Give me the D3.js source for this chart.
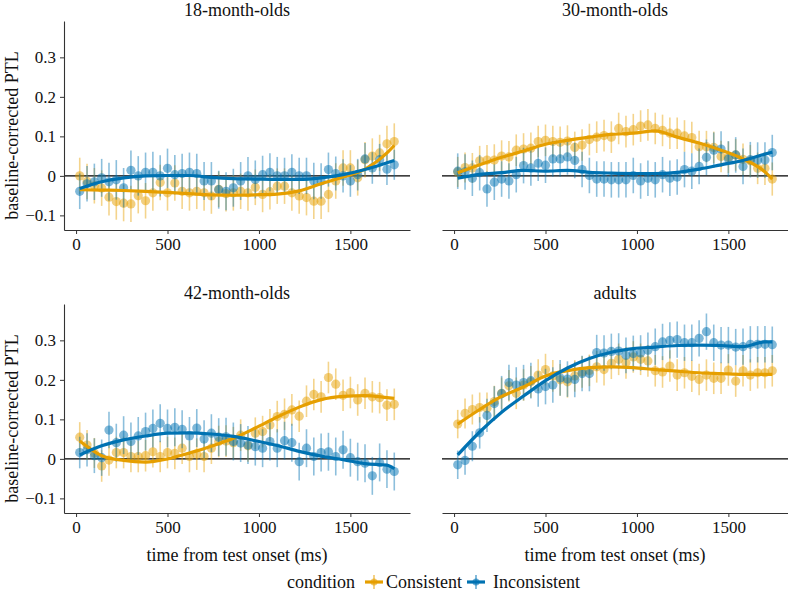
<!DOCTYPE html>
<html lang="en">
<head>
<meta charset="utf-8">
<script src="https://d3js.org/d3.v7.min.js"></script>
<style>
  body { margin: 0; background: white; }
  svg text { font-family: "Liberation Serif", "Times New Roman", serif; fill: #111; }
  .axis path, .axis line { stroke: #333; }
</style>
</head>
<body>
<div id="chart"></div>
<script>
// time bins (ms)
const times = [20,60,100,140,180,220,260,300,340,380,420,460,500,540,580,620,660,700,740,780,820,860,
  900,940,980,1020,1060,1100,1140,1180,1220,1260,1300,1340,1380,1420,1460,1500,1540,1580,1620,1660,1700,1740];
const fitTimes = [20,140,260,380,500,620,740,860,980,1100,1220,1340,1460,1580,1700,1740];

const panelNames = ["18-month-olds", "30-month-olds", "42-month-olds", "adults"];
const conditions = ["Consistent", "Inconsistent"];
const yTicks = [-0.1, 0, 0.1, 0.2, 0.3];
const xTicks = [0, 500, 1000, 1500];

// 18-month-olds
const c18 = [0.0,-0.014,-0.025,-0.031,-0.054,-0.065,-0.069,-0.071,-0.05,-0.063,-0.043,-0.017,-0.043,-0.018,-0.039,-0.043,-0.039,-0.043,-0.051,-0.034,-0.045,-0.043,
  -0.039,-0.043,-0.029,-0.047,-0.04,-0.026,-0.026,-0.043,-0.051,-0.055,-0.064,-0.064,-0.047,-0.013,0.02,0.02,-0.005,0.041,0.05,0.058,0.081,0.087];
const i18 = [-0.039,-0.02,-0.015,-0.005,-0.015,-0.01,-0.03,0.014,0.0,0.009,0.009,0.0,0.019,0.003,0.006,0.009,0.006,-0.013,-0.013,-0.035,-0.039,-0.03,
  -0.013,0.0,-0.009,0.003,0.009,0.0,0.0,0.009,0.0,0.0,-0.013,-0.013,0.016,0.006,0.0,-0.013,0.003,0.043,0.02,0.041,0.017,0.028];
const c18se = [0.046,0.045,0.045,0.045,0.046,0.046,0.046,0.046,0.045,0.045,0.045,0.045,0.045,0.045,0.045,0.045,0.045,0.045,0.045,0.045,0.045,0.045,
  0.045,0.045,0.045,0.045,0.045,0.045,0.045,0.045,0.045,0.045,0.045,0.045,0.045,0.045,0.045,0.045,0.045,0.045,0.045,0.046,0.046,0.046];
const i18se = [0.045,0.045,0.046,0.048,0.048,0.05,0.05,0.05,0.05,0.05,0.052,0.052,0.05,0.05,0.05,0.05,0.05,0.048,0.048,0.048,0.048,0.048,
  0.048,0.048,0.048,0.048,0.048,0.048,0.046,0.046,0.046,0.046,0.046,0.045,0.043,0.043,0.042,0.04,0.04,0.04,0.04,0.04,0.04,0.038];
const c18fit = [-0.035,-0.036,-0.037,-0.039,-0.042,-0.045,-0.048,-0.049,-0.048,-0.046,-0.038,-0.02,-0.003,0.017,0.058,0.077];
const i18fit = [-0.032,-0.015,-0.005,0.0,0.001,0.001,-0.004,-0.007,-0.008,-0.009,-0.009,-0.005,0.003,0.016,0.033,0.039];

// 30-month-olds
const c30 = [0.01,0.021,0.02,0.038,0.04,0.04,0.05,0.048,0.065,0.068,0.07,0.087,0.09,0.087,0.085,0.088,0.072,0.078,0.092,0.098,0.102,0.098,
  0.12,0.112,0.117,0.126,0.129,0.12,0.115,0.108,0.108,0.101,0.097,0.074,0.074,0.072,0.049,0.047,0.053,0.042,0.038,0.019,0.019,-0.008];
const i30 = [0.012,0.01,-0.006,0.008,-0.033,-0.016,-0.008,-0.013,0.003,0.026,0.02,0.032,0.027,0.043,0.043,0.048,0.039,0.016,0.001,-0.008,-0.008,-0.01,
  -0.01,-0.01,0.001,-0.013,-0.006,-0.01,0.003,-0.006,-0.003,0.016,0.012,0.024,0.047,0.065,0.068,0.043,0.053,0.024,0.041,0.04,0.04,0.059];
const c30se = [0.038,0.038,0.038,0.038,0.038,0.04,0.04,0.04,0.04,0.04,0.04,0.04,0.04,0.04,0.04,0.04,0.04,0.04,0.04,0.04,0.04,0.04,
  0.04,0.04,0.04,0.04,0.04,0.04,0.04,0.04,0.04,0.04,0.04,0.04,0.04,0.04,0.04,0.04,0.04,0.04,0.04,0.04,0.042,0.042];
const i30se = [0.045,0.045,0.045,0.045,0.045,0.045,0.045,0.045,0.045,0.045,0.045,0.045,0.045,0.045,0.045,0.045,0.045,0.045,0.045,0.045,0.045,0.045,
  0.045,0.045,0.045,0.045,0.045,0.045,0.045,0.045,0.045,0.045,0.045,0.045,0.045,0.045,0.045,0.045,0.045,0.045,0.045,0.045,0.045,0.045];
const c30fit = [0.008,0.028,0.047,0.063,0.08,0.09,0.098,0.105,0.108,0.114,0.098,0.083,0.065,0.043,0.01,-0.008];
const i30fit = [-0.006,0.004,0.008,0.014,0.012,0.014,0.009,0.007,0.006,0.006,0.009,0.017,0.028,0.039,0.055,0.06];

// 42-month-olds
const c42 = [0.055,0.035,0.015,-0.018,-0.003,0.016,0.016,0.006,0.006,0.008,0.018,0.006,0.016,0.014,0.027,0.006,0.012,0.006,0.027,0.044,0.045,0.041,
  0.06,0.033,0.065,0.069,0.086,0.107,0.113,0.124,0.108,0.146,0.163,0.157,0.206,0.189,0.161,0.168,0.149,0.166,0.157,0.155,0.136,0.138];
const i42 = [0.016,0.023,0.008,0.003,0.073,0.041,0.06,0.044,0.058,0.069,0.077,0.09,0.077,0.08,0.075,0.058,0.078,0.05,0.065,0.055,0.056,0.044,
  0.04,0.035,0.031,0.027,0.044,0.027,0.046,0.041,-0.007,0.027,0.006,0.016,0.018,0.006,0.023,0.003,-0.007,-0.011,-0.043,-0.009,-0.026,-0.032];
const c42se = [0.038,0.038,0.038,0.04,0.04,0.04,0.04,0.04,0.04,0.04,0.04,0.04,0.04,0.04,0.04,0.04,0.04,0.04,0.04,0.04,0.04,0.04,
  0.04,0.04,0.04,0.04,0.04,0.04,0.04,0.04,0.04,0.04,0.04,0.04,0.04,0.04,0.04,0.04,0.04,0.04,0.04,0.04,0.04,0.04];
const i42se = [0.04,0.042,0.044,0.046,0.046,0.048,0.048,0.048,0.048,0.048,0.048,0.048,0.048,0.048,0.048,0.048,0.048,0.048,0.048,0.048,0.048,0.048,
  0.048,0.048,0.048,0.048,0.048,0.048,0.048,0.048,0.048,0.048,0.048,0.048,0.048,0.048,0.048,0.048,0.048,0.048,0.048,0.048,0.048,0.048];
const c42fit = [0.045,0.008,-0.004,-0.008,0.0,0.015,0.032,0.052,0.078,0.106,0.131,0.15,0.158,0.16,0.155,0.153];
const i42fit = [0.01,0.033,0.048,0.058,0.065,0.066,0.063,0.057,0.046,0.034,0.019,0.007,-0.002,-0.012,-0.016,-0.025];

// adults
const cAd = [0.088,0.115,0.125,0.13,0.128,0.145,0.166,0.185,0.166,0.187,0.195,0.212,0.226,0.21,0.2,0.195,0.21,0.22,0.224,0.233,0.226,0.242,
  0.252,0.243,0.258,0.252,0.248,0.223,0.22,0.235,0.212,0.218,0.209,0.201,0.212,0.204,0.204,0.225,0.197,0.223,0.212,0.218,0.218,0.223];
const iAd = [-0.015,-0.004,0.032,0.066,0.11,0.14,0.165,0.193,0.187,0.193,0.198,0.177,0.183,0.187,0.205,0.202,0.201,0.216,0.216,0.269,0.268,0.272,
  0.273,0.262,0.267,0.268,0.275,0.284,0.296,0.3,0.302,0.294,0.294,0.305,0.322,0.294,0.288,0.288,0.283,0.284,0.29,0.29,0.29,0.289];
const cAdse = [0.036,0.038,0.038,0.038,0.04,0.04,0.04,0.04,0.04,0.04,0.04,0.04,0.04,0.04,0.04,0.04,0.04,0.04,0.04,0.04,0.04,0.04,
  0.04,0.04,0.04,0.04,0.04,0.04,0.04,0.04,0.04,0.04,0.04,0.04,0.04,0.04,0.04,0.04,0.04,0.04,0.04,0.04,0.04,0.04];
const iAdse = [0.036,0.036,0.038,0.04,0.042,0.044,0.045,0.045,0.045,0.045,0.045,0.045,0.045,0.045,0.045,0.045,0.045,0.045,0.045,0.045,0.045,0.045,
  0.045,0.045,0.045,0.045,0.045,0.046,0.046,0.046,0.046,0.046,0.046,0.046,0.046,0.046,0.046,0.046,0.046,0.046,0.046,0.046,0.046,0.046];
const cAdfit = [0.088,0.125,0.158,0.182,0.21,0.223,0.231,0.233,0.231,0.226,0.222,0.218,0.216,0.214,0.214,0.214];
const iAdfit = [0.01,0.068,0.118,0.159,0.198,0.23,0.254,0.27,0.279,0.283,0.287,0.288,0.287,0.284,0.296,0.296];

const colors = { Consistent: "#E69F00", Inconsistent: "#0072B2" };

// table the panels need, built from the arrays above
const panelData = [
  { Consistent: [c18, c18se, c18fit], Inconsistent: [i18, i18se, i18fit] },
  { Consistent: [c30, c30se, c30fit], Inconsistent: [i30, i30se, i30fit] },
  { Consistent: [c42, c42se, c42fit], Inconsistent: [i42, i42se, i42fit] },
  { Consistent: [cAd, cAdse, cAdfit], Inconsistent: [iAd, iAdse, iAdfit] }
];

const width = 788, height = 593;
const panelW = 346, panelH = 209;
const colLeft = [64, 442], rowTop = [21, 304];
const serif = "'Liberation Serif', 'Times New Roman', serif";

const svg = d3.select("#chart").append("svg")
  .attr("width", width)
  .attr("height", height)
  .attr("font-family", serif);

const x = d3.scaleLinear().domain([-66, 1826]).range([0, panelW]);
const y = d3.scaleLinear().domain([-0.137, 0.392]).range([panelH, 0]);

panelNames.forEach((name, i) => {
  const col = i % 2, row = Math.floor(i / 2);
  const g = svg.append("g").attr("transform", `translate(${colLeft[col]},${rowTop[row]})`);

  // strip title
  g.append("text")
    .attr("x", panelW / 2)
    .attr("y", -11)
    .attr("text-anchor", "middle")
    .attr("dominant-baseline", "central")
    .style("font-size", "18px")
    .text(name);

  // zero line
  g.append("line")
    .attr("x1", 0).attr("x2", panelW)
    .attr("y1", y(0)).attr("y2", y(0))
    .attr("stroke", "black")
    .attr("stroke-width", 1.1);

  // x axis
  const xa = g.append("g")
    .attr("class", "axis")
    .attr("transform", `translate(0,${panelH})`)
    .call(d3.axisBottom(x).tickValues(xTicks).tickSize(4).tickPadding(4).tickSizeOuter(0)
      .tickFormat(d3.format("d")));
  xa.attr("font-family", serif);
  xa.selectAll("text").style("font-size", "17px").attr("fill", "#111");
  xa.select(".domain").attr("stroke-width", 1.1);

  // y axis only on the left column
  if (col === 0) {
    const ya = g.append("g")
      .attr("class", "axis")
      .call(d3.axisLeft(y).tickValues(yTicks).tickSize(4).tickPadding(4).tickSizeOuter(0)
        .tickFormat(d => d === 0 ? "0" : d3.format(".1f")(d)));
    ya.attr("font-family", serif);
    ya.selectAll("text").style("font-size", "17px").attr("fill", "#111");
    ya.select(".domain").attr("stroke-width", 1.1);

    svg.append("text")
      .attr("text-anchor", "middle")
      .attr("transform", `translate(12,${rowTop[row] + panelH / 2 + 10}) rotate(-90)`)
      .attr("dominant-baseline", "central")
      .style("font-size", "18px")
      .text("baseline-corrected PTL");
  }

  // x axis title on bottom row
  if (row === 1) {
    svg.append("text")
      .attr("x", colLeft[col] + panelW / 2)
      .attr("y", 555)
      .attr("text-anchor", "middle")
      .attr("dominant-baseline", "central")
      .style("font-size", "18px")
      .text("time from test onset (ms)");
  }

  conditions.forEach(cond => {
    const [vals, se] = panelData[i][cond];
    const pts = times.map((t, k) => ({ t: t, v: vals[k], se: se[k] }));

    g.append("g").selectAll("line")
      .data(pts)
      .join("line")
      .attr("x1", d => x(d.t)).attr("x2", d => x(d.t))
      .attr("y1", d => y(d.v - d.se)).attr("y2", d => y(d.v + d.se))
      .attr("stroke", colors[cond])
      .attr("stroke-opacity", 0.45)
      .attr("stroke-width", 1.6);

    g.append("g").selectAll("circle")
      .data(pts)
      .join("circle")
      .attr("cx", d => x(d.t))
      .attr("cy", d => y(d.v))
      .attr("r", 4.6)
      .attr("fill", colors[cond])
      .attr("fill-opacity", 0.5);
  });

  conditions.forEach(cond => {
    const fit = panelData[i][cond][2];
    const line = d3.line()
      .x((d, k) => x(fitTimes[k]))
      .y(d => y(d))
      .curve(d3.curveMonotoneX);
    g.append("path")
      .attr("d", line(fit))
      .attr("fill", "none")
      .attr("stroke", colors[cond])
      .attr("stroke-width", 3.2)
      .attr("stroke-linejoin", "round");
  });
});

// legend
const legend = svg.append("g").attr("transform", "translate(0,582)");
legend.append("text")
  .attr("x", 287).attr("y", 0)
  .attr("dominant-baseline", "central")
  .style("font-size", "18px")
  .text("condition");

const keyPos = [{ cond: "Consistent", kx: 374, tx: 386 }, { cond: "Inconsistent", kx: 476, tx: 493 }];
keyPos.forEach(p => {
  const k = legend.append("g").attr("transform", `translate(${p.kx},0)`);
  k.append("line").attr("x1", -9).attr("x2", 9).attr("y1", 0).attr("y2", 0)
    .attr("stroke", colors[p.cond]).attr("stroke-width", 3.2);
  k.append("line").attr("x1", 0).attr("x2", 0).attr("y1", -7).attr("y2", 7)
    .attr("stroke", colors[p.cond]).attr("stroke-opacity", 0.6).attr("stroke-width", 1.6);
  k.append("circle").attr("r", 3.5).attr("fill", colors[p.cond]).attr("fill-opacity", 0.6);
  legend.append("text")
    .attr("x", p.tx).attr("y", 0)
    .attr("dominant-baseline", "central")
    .style("font-size", "18px")
    .text(p.cond);
});
</script>
</body>
</html>
